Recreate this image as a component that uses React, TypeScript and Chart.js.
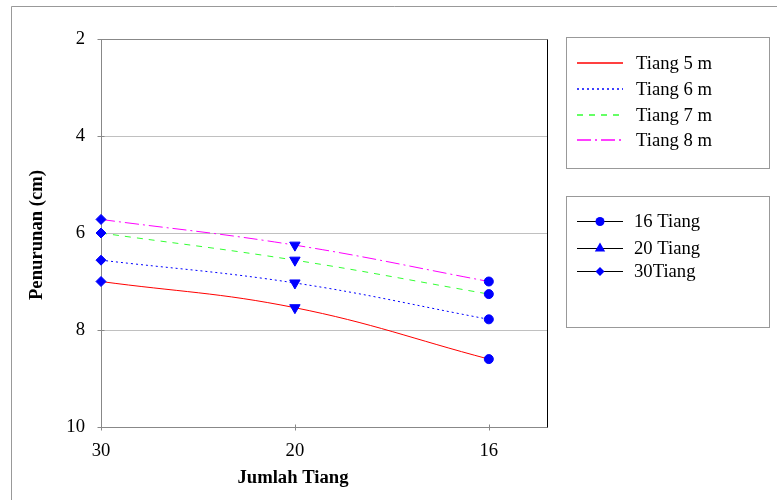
import { useEffect, useRef } from 'react';
import { Chart, registerables } from 'chart.js';

Chart.register(...registerables);

// Jumlah tiang (x categories) and settlement values (cm) per pile length
const categories = ['30', '20', '16'];
const seriesNames = ['Tiang 5 m', 'Tiang 6 m', 'Tiang 7 m', 'Tiang 8 m'];
const tiang5m = [7.0, 7.54, 8.6];
const tiang6m = [6.56, 7.03, 7.78];
const tiang7m = [6.0, 6.56, 7.26];
const tiang8m = [5.72, 6.25, 7.0];
const seriesValues = [tiang5m, tiang6m, tiang7m, tiang8m];

// Marker series: one marker per pile length at a given pile count
const markerNames = ['16 Tiang', '20 Tiang', '30Tiang'];
const markerCategories = ['16', '20', '30'];

const yTicks = [2, 4, 6, 8, 10];
const yTitle = 'Penurunan (cm)';
const xTitle = 'Jumlah Tiang';

const FONT_FAMILY = '"Times New Roman", "Liberation Serif", serif';
const FONT_SIZE = 18.67;
const MARKER_BLUE = '#0000ff';

const lineStyles = [
  { color: '#ff0000', dash: [] as number[] },
  { color: '#0000ff', dash: [2, 3] },
  { color: '#33ff33', dash: [6, 6] },
  { color: '#ff00ff', dash: [14, 4, 2, 4] },
];

const markerStyles = [
  { style: 'circle', radius: 4.5, rotation: 0 },
  { style: 'triangle', radius: 6, rotation: 180 },
  { style: 'rectRot', radius: 5, rotation: 0 },
];

function drawMarker(ctx: CanvasRenderingContext2D, style: string, x: number, y: number, r: number) {
  ctx.beginPath();
  if (style === 'circle') {
    ctx.arc(x, y, r, 0, Math.PI * 2);
  } else if (style === 'triangle') {
    const h = r * 0.5;
    const w = r * Math.cos(Math.PI / 6);
    ctx.moveTo(x, y - r);
    ctx.lineTo(x + w, y + h);
    ctx.lineTo(x - w, y + h);
    ctx.closePath();
  } else {
    ctx.moveTo(x - r, y);
    ctx.lineTo(x, y - r);
    ctx.lineTo(x + r, y);
    ctx.lineTo(x, y + r);
    ctx.closePath();
  }
  ctx.fillStyle = MARKER_BLUE;
  ctx.fill();
}

const framePlugin = {
  id: 'frameAndLegends',
  beforeDraw(chart: any) {
    const ctx: CanvasRenderingContext2D = chart.ctx;
    ctx.save();
    ctx.fillStyle = '#ffffff';
    ctx.fillRect(0, 0, chart.width, chart.height);
    // outer chart frame
    ctx.strokeStyle = '#999999';
    ctx.lineWidth = 1;
    ctx.beginPath();
    ctx.moveTo(11.5, chart.height);
    ctx.lineTo(11.5, 6.5);
    ctx.lineTo(chart.width, 6.5);
    ctx.stroke();
    ctx.restore();
  },
  beforeDatasetsDraw(chart: any) {
    const ctx: CanvasRenderingContext2D = chart.ctx;
    const { left, right, top, bottom } = chart.chartArea;
    const ys = chart.scales.y;
    const xs = chart.scales.x;
    ctx.save();
    ctx.lineWidth = 1;
    // horizontal gridlines
    ctx.strokeStyle = '#c0c0c0';
    for (const v of yTicks) {
      if (v === yTicks[0] || v === yTicks[yTicks.length - 1]) continue;
      const py = Math.round(ys.getPixelForValue(v)) + 0.5;
      ctx.beginPath();
      ctx.moveTo(left, py);
      ctx.lineTo(right, py);
      ctx.stroke();
    }
    // plot border: grey top / axes, black right edge
    ctx.strokeStyle = '#888888';
    const L = Math.round(left) + 0.5;
    const R = Math.round(right) + 0.5;
    const T = Math.round(top) + 0.5;
    const B = Math.round(bottom) + 0.5;
    ctx.beginPath();
    ctx.moveTo(R, T);
    ctx.lineTo(L, T);
    ctx.lineTo(L, B);
    ctx.lineTo(R, B);
    ctx.stroke();
    ctx.strokeStyle = '#000000';
    ctx.beginPath();
    ctx.moveTo(R, T);
    ctx.lineTo(R, B);
    ctx.stroke();
    // tick marks
    ctx.strokeStyle = '#888888';
    for (const v of yTicks) {
      const py = Math.round(ys.getPixelForValue(v)) + 0.5;
      ctx.beginPath();
      ctx.moveTo(L - 4, py);
      ctx.lineTo(L + 3, py);
      ctx.stroke();
    }
    categories.forEach((_, i) => {
      const px = Math.round(xs.getPixelForValue(i)) + 0.5;
      ctx.beginPath();
      ctx.moveTo(px, B - 3);
      ctx.lineTo(px, B + 3);
      ctx.stroke();
    });
    ctx.restore();
  },
  afterDraw(chart: any) {
    const ctx: CanvasRenderingContext2D = chart.ctx;
    ctx.save();
    ctx.fillStyle = '#000000';
    // axis titles
    ctx.font = `bold ${FONT_SIZE}px ${FONT_FAMILY}`;
    ctx.textAlign = 'center';
    ctx.textBaseline = 'middle';
    ctx.fillText(xTitle, 293, 478);
    ctx.save();
    ctx.translate(37, 235);
    ctx.rotate(-Math.PI / 2);
    ctx.fillText(yTitle, 0, 0);
    ctx.restore();

    // legend boxes
    ctx.strokeStyle = '#999999';
    ctx.lineWidth = 1;
    ctx.strokeRect(566.5, 37.5, 203, 131);
    ctx.strokeRect(566.5, 196.5, 203, 131);

    ctx.font = `${FONT_SIZE}px ${FONT_FAMILY}`;
    ctx.textAlign = 'left';
    const rows1 = [63, 89, 115, 140];
    seriesNames.forEach((name, i) => {
      const y = rows1[i];
      ctx.strokeStyle = lineStyles[i].color;
      ctx.lineWidth = 1.4;
      ctx.setLineDash(lineStyles[i].dash);
      ctx.beginPath();
      ctx.moveTo(577, y);
      ctx.lineTo(623, y);
      ctx.stroke();
      ctx.setLineDash([]);
      ctx.lineWidth = 1;
      ctx.fillStyle = '#000000';
      ctx.fillText(name, 636, rows1[i] + 1);
    });

    const rows2 = [221, 248, 271];
    markerNames.forEach((name, i) => {
      const y = rows2[i] + 0.5;
      ctx.strokeStyle = '#000000';
      ctx.beginPath();
      ctx.moveTo(577, y);
      ctx.lineTo(623, y);
      ctx.stroke();
      const m = markerStyles[i];
      drawMarker(ctx, m.style, 600, y, m.style === 'rectRot' ? 4.5 : m.radius);
      ctx.fillStyle = '#000000';
      ctx.fillText(name, 634, rows2[i] + 1);
    });
    ctx.restore();
  },
};

export default function App() {
  const canvasRef = useRef<HTMLCanvasElement | null>(null);

  useEffect(() => {
    const canvas = canvasRef.current;
    if (!canvas) return;

    const lineDatasets = seriesValues.map((values, i) => ({
      label: seriesNames[i],
      data: values.map((y, x) => ({ x, y })),
      borderColor: lineStyles[i].color,
      backgroundColor: lineStyles[i].color,
      borderDash: lineStyles[i].dash,
      borderWidth: 1,
      pointRadius: 0,
      pointHoverRadius: 0,
      tension: 0.4,
      fill: false,
      order: 1,
    }));

    const markerDatasets = markerNames.map((name, i) => {
      const xi = categories.indexOf(markerCategories[i]);
      const m = markerStyles[i];
      return {
        label: name,
        data: seriesValues.map((values) => ({ x: xi, y: values[xi] })),
        showLine: false,
        pointStyle: m.style,
        pointRadius: m.radius,
        pointRotation: m.rotation,
        pointBackgroundColor: MARKER_BLUE,
        pointBorderColor: MARKER_BLUE,
        pointBorderWidth: 1,
        borderColor: MARKER_BLUE,
        backgroundColor: MARKER_BLUE,
        clip: false,
        order: 0,
      };
    });

    const chart = new Chart(canvas, {
      type: 'line',
      data: { datasets: [...lineDatasets, ...markerDatasets] as any },
      options: {
        animation: false,
        responsive: false,
        devicePixelRatio: 1,
        events: [],
        layout: { padding: { left: 11, top: 39, right: 230, bottom: 0 } },
        plugins: {
          legend: { display: false },
          tooltip: { enabled: false },
        },
        scales: {
          x: {
            type: 'linear',
            min: 0,
            max: 2.3,
            afterBuildTicks: (s: any) => {
              s.ticks = categories.map((_, i) => ({ value: i }));
            },
            afterFit: (s: any) => {
              s.height = 73;
            },
            ticks: {
              autoSkip: false,
              maxRotation: 0,
              padding: 5,
              color: '#000000',
              font: { family: FONT_FAMILY, size: FONT_SIZE },
              callback: (v: any) => categories[v as number] ?? '',
            },
            grid: { display: false },
            border: { display: false },
          },
          y: {
            type: 'linear',
            reverse: true,
            min: 2,
            max: 10,
            afterBuildTicks: (s: any) => {
              s.ticks = yTicks.map((v) => ({ value: v }));
            },
            afterFit: (s: any) => {
              s.width = 90;
            },
            ticks: {
              autoSkip: false,
              padding: 8,
              color: '#000000',
              font: { family: FONT_FAMILY, size: FONT_SIZE },
            },
            grid: { display: false },
            border: { display: false },
          },
        },
      },
      plugins: [framePlugin],
    });

    return () => chart.destroy();
  }, []);

  return (
    <div style={{ position: 'absolute', left: 0, top: 0, width: 777, height: 500 }}>
      <canvas ref={canvasRef} width={777} height={500} />
    </div>
  );
}
